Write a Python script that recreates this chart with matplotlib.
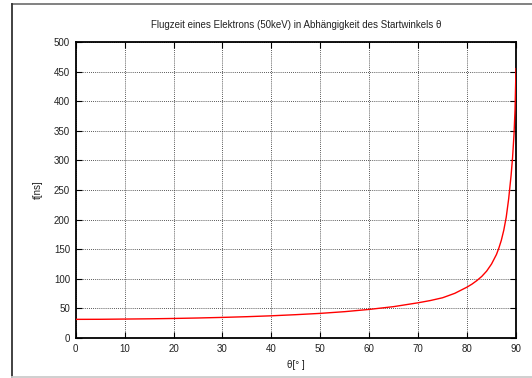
import matplotlib
matplotlib.use("Agg")
import matplotlib.pyplot as plt
from matplotlib.lines import Line2D

plt.rcParams['font.family'] = ['Liberation Sans', 'DejaVu Sans']

# data
theta = [0, 5, 10, 15, 20, 25, 30, 35, 40, 45, 50, 55, 60, 65, 70, 72.5, 75,
         77.5, 80, 81, 82, 83, 84, 85, 86, 86.5, 87, 87.5, 88, 88.5, 89,
         89.3, 89.6, 89.8, 90]
t_ns = [31.5, 31.6, 32, 32.4, 33, 33.8, 34.8, 36, 37.5, 39.4, 41.6, 44.5, 48.3,
        53, 59.5, 63.3, 68, 75.5, 86, 91, 97, 104, 113, 125, 141, 152, 165,
        182, 204, 235, 275, 305, 345, 385, 455]
xticks = [0, 10, 20, 30, 40, 50, 60, 70, 80, 90]
yticks = [0, 50, 100, 150, 200, 250, 300, 350, 400, 450, 500]
title = "Flugzeit eines Elektrons (50keV) in Abhängigkeit des Startwinkels θ"

W, H = 532, 378
fig = plt.figure(figsize=(W / 100, H / 100), dpi=100)
ax = fig.add_axes([75.7 / W, 1 - 338 / H, (516 - 75.7) / W, (338 - 42) / H])

ax.plot(theta, t_ns, color='#ff0000', lw=1.0, zorder=3)
ax.set_xlim(0, 90)
ax.set_ylim(0, 500)
ax.set_xticks(xticks)
ax.set_yticks(yticks)
ax.tick_params(direction='in', length=4, width=0.8, labelsize=7, pad=4,
               top=True, right=True, colors='black')
ax.tick_params(labelcolor='#222222')
ax.grid(True, color='#222222', linestyle=(0, (1, 1.5)), linewidth=0.6)
for s in ax.spines.values():
    s.set_linewidth(1.3)
ax.set_xlabel("θ[° ]", fontsize=7, labelpad=5, color='#222222')
ax.set_ylabel("t[ns]", fontsize=7, labelpad=8, color='#222222')
ax.set_title(title, fontsize=7, pad=10, color='#222222')

# outer frame of the screenshot
fig.add_artist(Line2D([12 / W, 1], [1 - 3.5 / H, 1 - 3.5 / H],
                      transform=fig.transFigure, color='#777777', lw=1.3))
fig.add_artist(Line2D([12 / W, 12 / W], [1 - 3.5 / H, 1 - 377 / H],
                      transform=fig.transFigure, color='#333333', lw=1.3))
fig.add_artist(Line2D([12 / W, 1], [1 - 377 / H, 1 - 377 / H],
                      transform=fig.transFigure, color='#cccccc', lw=1.3))

fig.savefig("out.png", dpi=100)
